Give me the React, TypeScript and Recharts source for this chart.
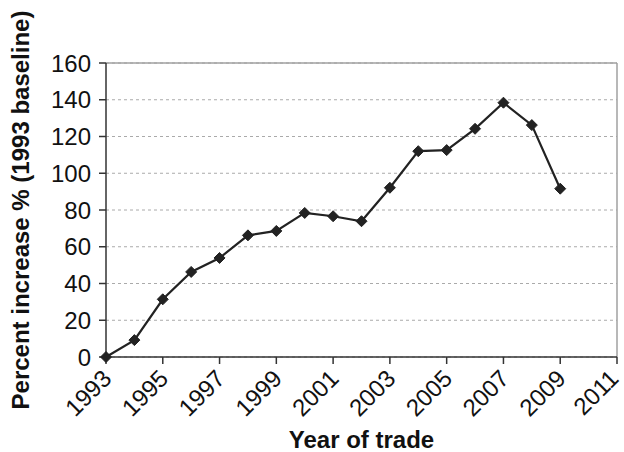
import { CartesianGrid, Label, Line, LineChart, ReferenceLine, XAxis, YAxis } from "recharts";

const years = [1993, 1994, 1995, 1996, 1997, 1998, 1999, 2000, 2001, 2002, 2003, 2004, 2005, 2006, 2007, 2008, 2009];
const increase = [0, 9.2, 31.4, 46.3, 53.9, 66.2, 68.6, 78.4, 76.6, 73.9, 92.1, 112, 112.6, 124.2, 138.4, 126.2, 91.6];
const xTicks = [1993, 1995, 1997, 1999, 2001, 2003, 2005, 2007, 2009, 2011];
const yTicks = [0, 20, 40, 60, 80, 100, 120, 140, 160];

const data = years.map((year, i) => ({ year, value: increase[i] }));

const FONT = "'Liberation Sans', Arial, sans-serif";

function Diamond(props: any) {
  const { cx, cy } = props;
  if (cx == null || cy == null) return null;
  const r = 5.5;
  return (
    <path
      d={`M${cx},${cy - r}L${cx + r},${cy}L${cx},${cy + r}L${cx - r},${cy}Z`}
      fill="#222"
      stroke="#222"
      strokeWidth={1}
    />
  );
}

function YearTick(props: any) {
  const { x, y, payload } = props;
  // keep the last label inside the picture
  const ax = Math.min(x + 7, 620);
  const ay = y + 14;
  return (
    <text
      x={ax}
      y={ay}
      transform={`rotate(-45, ${ax}, ${ay})`}
      textAnchor="end"
      fontSize={24}
      fontFamily={FONT}
      fill="#111"
    >
      {payload.value}
    </text>
  );
}

export default function App() {
  return (
    <div style={{ position: "absolute", left: 0, top: 0, background: "#fff" }}>
      <LineChart width={624} height={452} data={data} margin={{ top: 63, right: 7, left: 0, bottom: 0 }}>
        <CartesianGrid vertical={false} strokeDasharray="3 3" stroke="#aaaaaa" />
        <ReferenceLine y={160} stroke="#a0a0a0" strokeWidth={1.5} />
        <ReferenceLine x={2011} stroke="#a0a0a0" strokeWidth={1.5} />
        <XAxis
          dataKey="year"
          type="number"
          domain={[1993, 2011]}
          ticks={xTicks}
          interval={0}
          height={95}
          tick={<YearTick />}
          tickSize={7}
          stroke="#333"
          strokeWidth={1.5}
        >
          <Label
            value="Year of trade"
            position="insideBottom"
            offset={4}
            style={{ fontSize: 24, fontWeight: "bold", fontFamily: FONT, fill: "#111" }}
          />
        </XAxis>
        <YAxis
          domain={[0, 160]}
          ticks={yTicks}
          interval={0}
          width={106}
          tickSize={7}
          tickMargin={8}
          stroke="#333"
          strokeWidth={1.5}
          tick={{ fontSize: 24, fontFamily: FONT, fill: "#111" }}
        >
          <Label
            value="Percent increase % (1993 baseline)"
            angle={-90}
            position="insideLeft"
            offset={20}
            style={{ textAnchor: "middle", fontSize: 24, fontWeight: "bold", fontFamily: FONT, fill: "#111" }}
          />
        </YAxis>
        <Line
          type="linear"
          dataKey="value"
          stroke="#222"
          strokeWidth={2.2}
          dot={<Diamond />}
          activeDot={false}
          isAnimationActive={false}
        />
      </LineChart>
    </div>
  );
}
